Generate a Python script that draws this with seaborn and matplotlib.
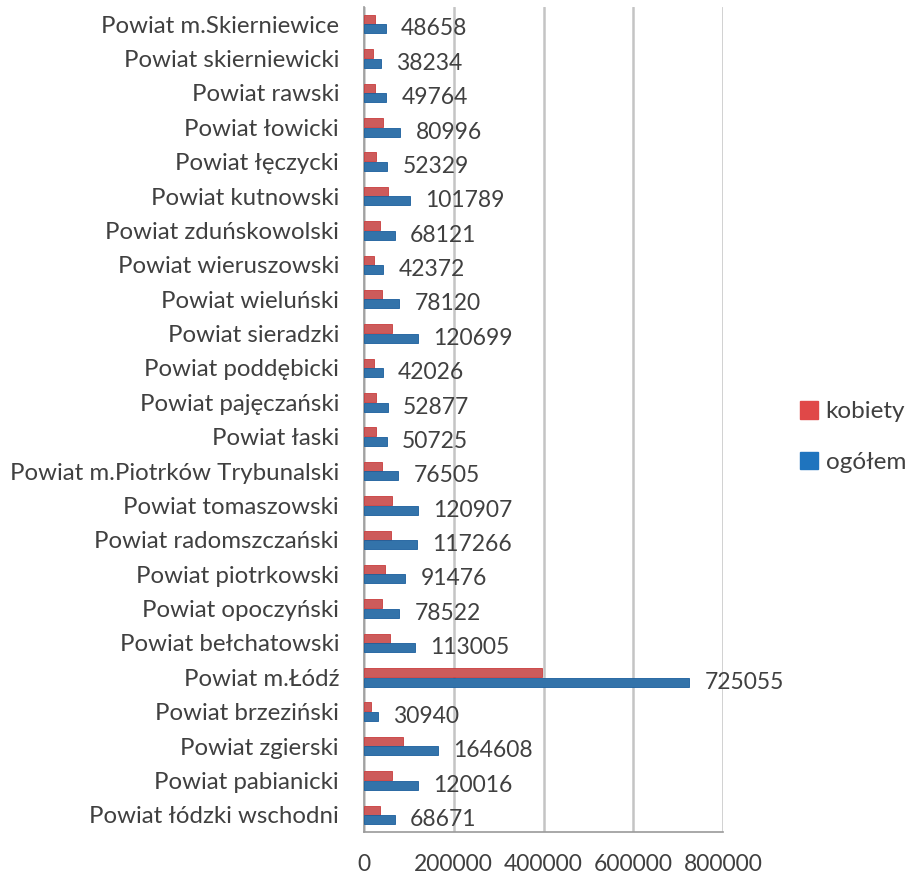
import numpy as np
import pandas as pd
import matplotlib
matplotlib.use('Agg')
import matplotlib.pyplot as plt
import seaborn as sns
from matplotlib.patches import Patch
from matplotlib.ticker import FixedLocator

powiaty = ['Powiat m.Skierniewice', 'Powiat skierniewicki', 'Powiat rawski', 'Powiat łowicki',
           'Powiat łęczycki', 'Powiat kutnowski', 'Powiat zduńskowolski', 'Powiat wieruszowski',
           'Powiat wieluński', 'Powiat sieradzki', 'Powiat poddębicki', 'Powiat pajęczański',
           'Powiat łaski', 'Powiat m.Piotrków Trybunalski', 'Powiat tomaszowski',
           'Powiat radomszczański', 'Powiat piotrkowski', 'Powiat opoczyński',
           'Powiat bełchatowski', 'Powiat m.Łódź', 'Powiat brzeziński', 'Powiat zgierski',
           'Powiat pabianicki', 'Powiat łódzki wschodni']
ogolem = [48658, 38234, 49764, 80996, 52329, 101789, 68121, 42372, 78120, 120699, 42026,
          52877, 50725, 76505, 120907, 117266, 91476, 78522, 113005, 725055, 30940, 164608,
          120016, 68671]
# (no labels in the source)
kobiety = [25300, 19300, 25300, 41500, 26800, 53000, 35300, 21300, 40000, 61500, 21400,
           26900, 26200, 40600, 62000, 60200, 46200, 39700, 57500, 396000, 15800, 86500,
           62800, 35000]
serie = ['kobiety', 'ogółem']
kolory = ['#E04848', '#1F74BE']

df = pd.DataFrame({
    'powiat': powiaty * 2,
    'wartosc': kobiety + ogolem,
    'seria': ['kobiety'] * len(powiaty) + ['ogółem'] * len(powiaty),
})

sns.set_style('white')
plt.rcParams['font.family'] = ['Lato', 'DejaVu Sans']
txt = '#404040'

fig = plt.figure(figsize=(9.08, 8.74), dpi=100)
ax = fig.add_axes([364 / 908, 1 - 832 / 874, (723 - 364) / 908, 825 / 874])

sns.barplot(data=df, y='powiat', x='wartosc', hue='seria', hue_order=serie, order=powiaty,
            palette=kolory, orient='h', width=0.55, gap=0.05, errorbar=None, legend=False,
            ax=ax, zorder=3)
for i, cont in enumerate(ax.containers):
    for p in cont:
        p.set_edgecolor('#1A5E9C' if i == 1 else '#C93C3C')
        p.set_linewidth(0.6)

ax.bar_label(ax.containers[1], labels=[str(v) for v in ogolem], padding=11,
             fontsize=16.5, color=txt)

ax.set_xlim(0, 800000)
ax.set_ylim(len(powiaty) - 0.5, -0.5)
ax.set_xticks([0, 200000, 400000, 600000, 800000])
ax.set_xticklabels(['0', '200000', '400000', '600000', '800000'])
ax.xaxis.grid(True, color='#C4C4C4', linewidth=1.8, zorder=0)
ax.set_xlabel('')
ax.set_ylabel('')

ax.yaxis.set_minor_locator(FixedLocator(np.arange(0.5, len(powiaty), 1)))
ax.tick_params(axis='y', which='major', length=0, pad=18, labelsize=17.3, labelcolor=txt)
ax.tick_params(axis='y', which='minor', length=8, width=1.2, color='#9A9A9A', direction='out')
ax.tick_params(axis='x', which='major', length=7, width=1.2, color='#9A9A9A', direction='out',
               pad=9, labelsize=16.5, labelcolor=txt)

for s in ['top', 'right']:
    ax.spines[s].set_visible(False)
for s in ['left', 'bottom']:
    ax.spines[s].set_color('#9A9A9A')
    ax.spines[s].set_linewidth(1.2)

uchwyty = [Patch(facecolor=kolory[0], edgecolor=kolory[0]),
           Patch(facecolor=kolory[1], edgecolor=kolory[1])]
fig.legend(uchwyty, serie, loc='center left', bbox_to_anchor=(800 / 908, 1 - 437 / 874),
           frameon=False, fontsize=17.5, labelcolor=txt, handlelength=0.75, handleheight=0.75,
           handletextpad=0.3, labelspacing=1.2, borderpad=0, borderaxespad=0)

fig.savefig('out.png', dpi=100)
